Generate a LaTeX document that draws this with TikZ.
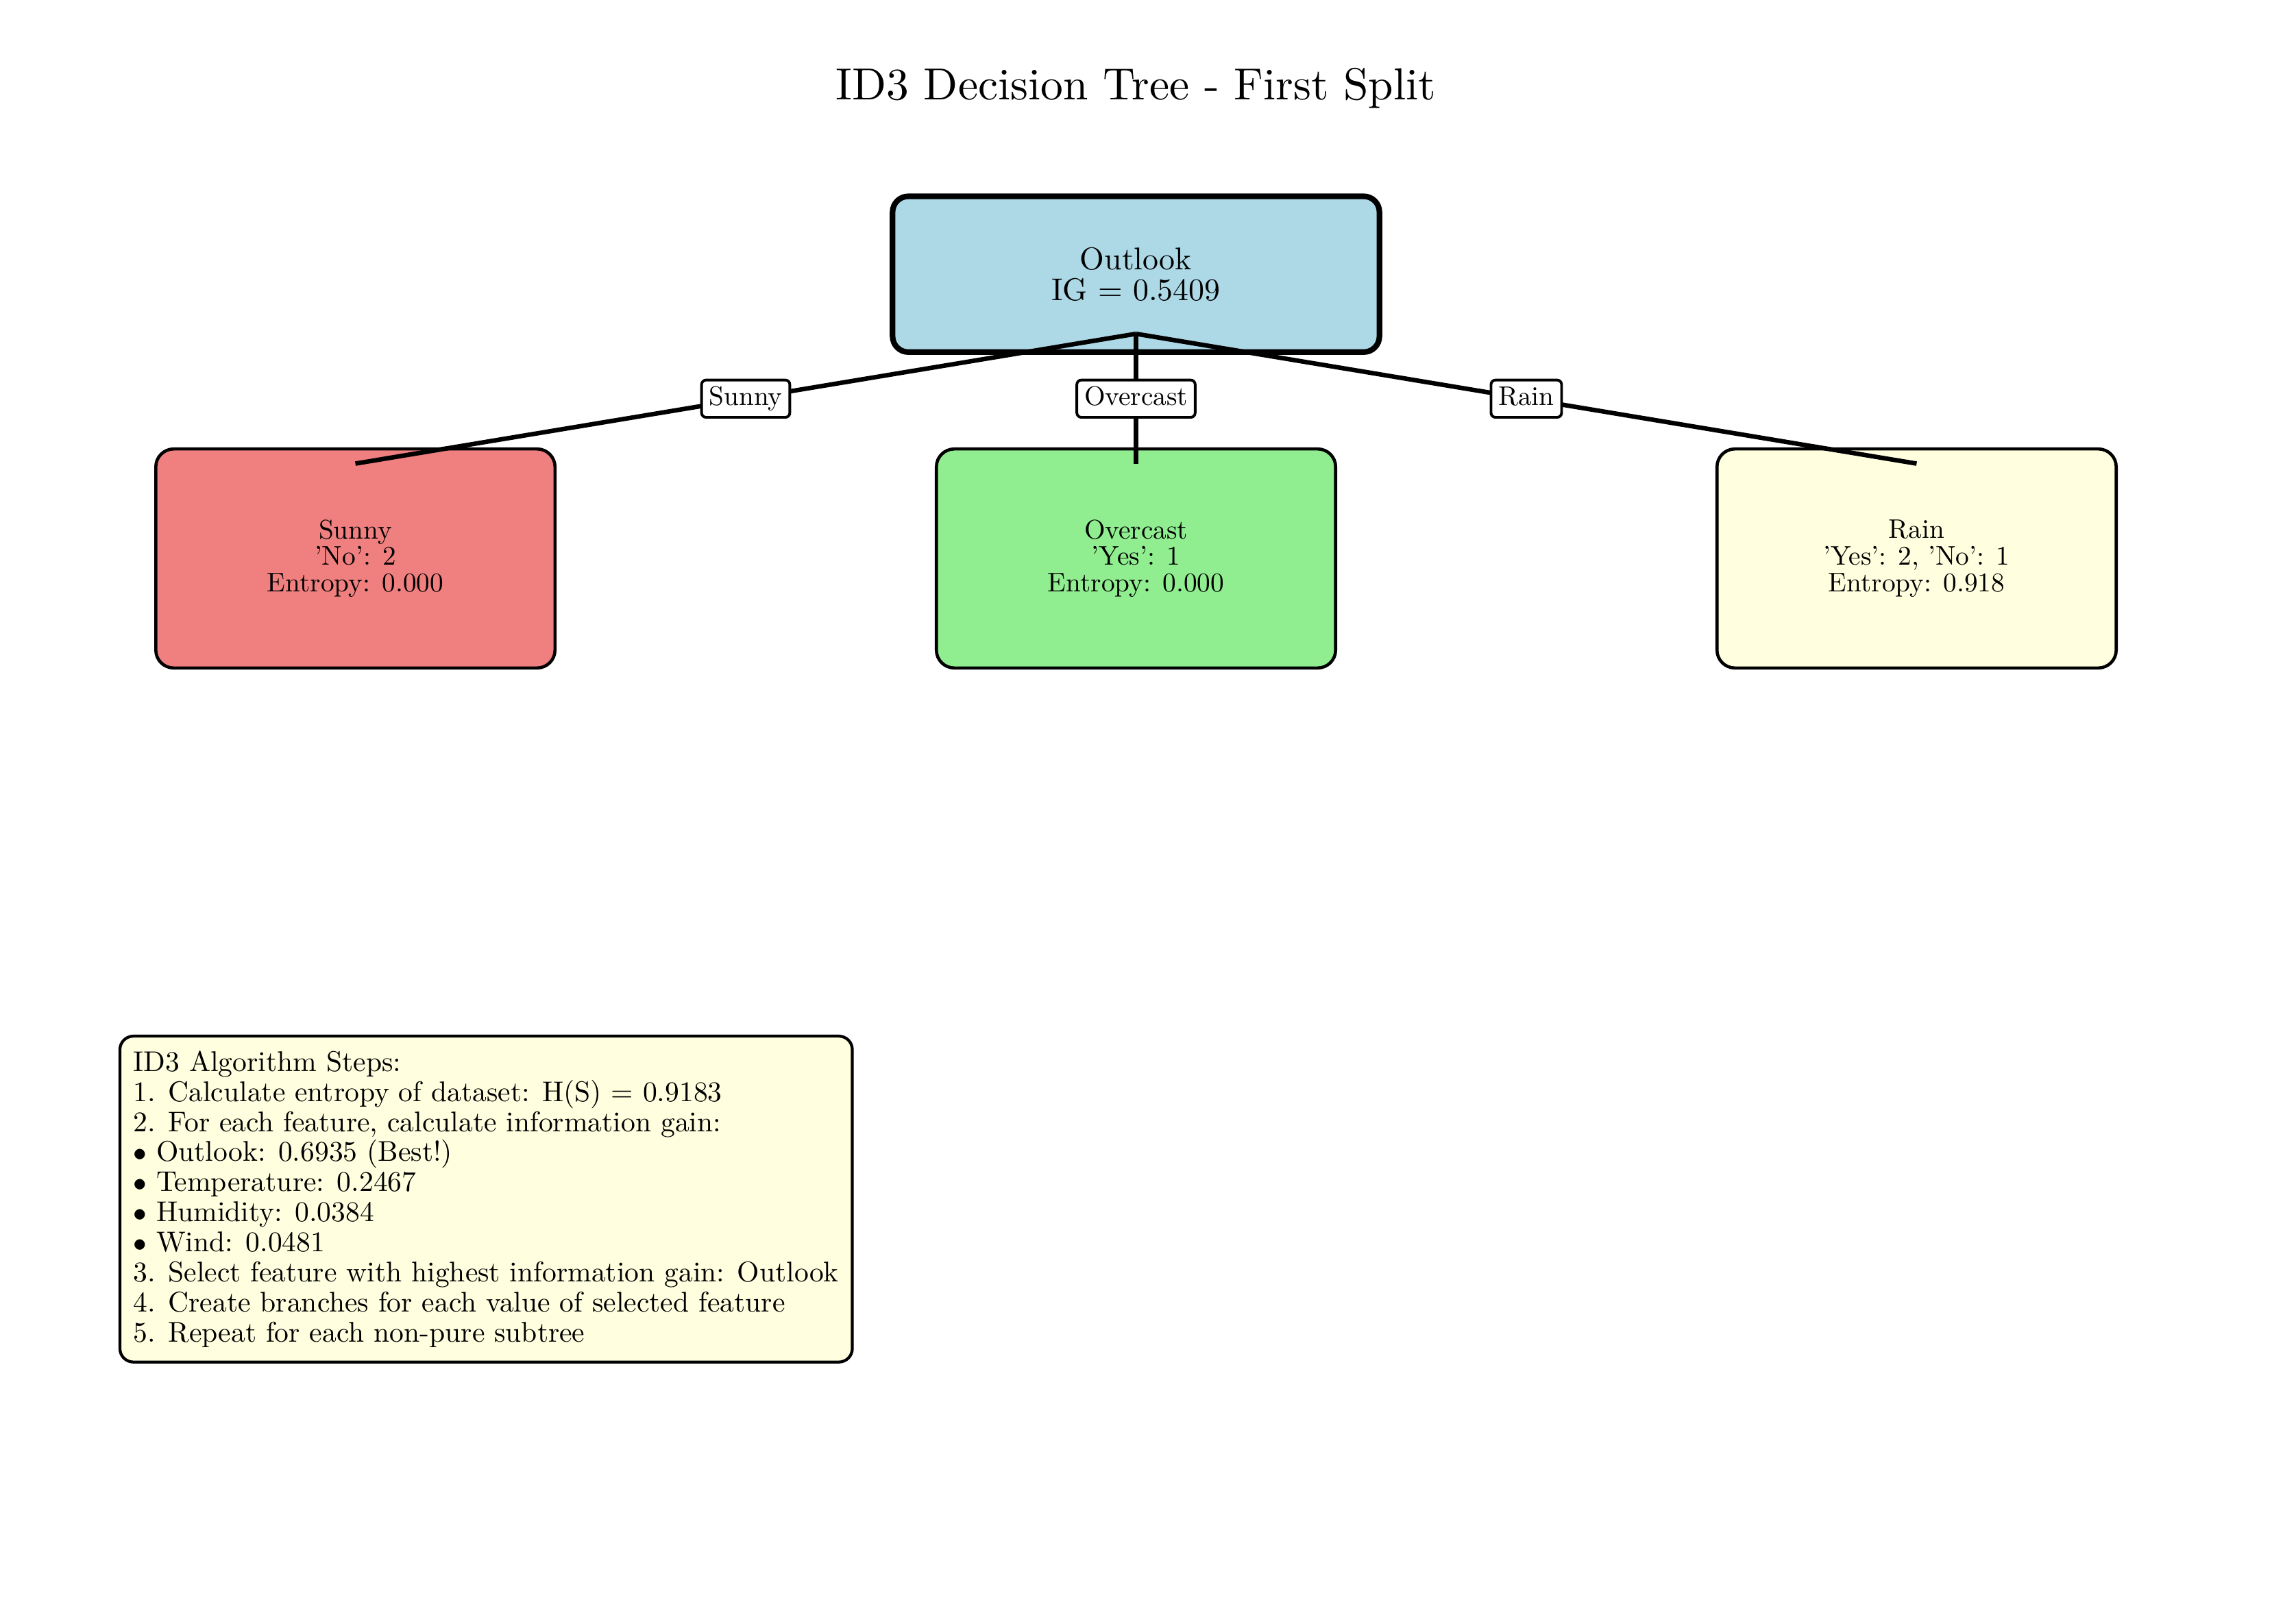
\documentclass[tikz,border=0pt]{standalone}
\usepackage[table,xcdraw]{xcolor}
\usepackage{amsmath}
\usepackage{fontspec}
\setmainfont{lmroman10-regular.otf}
\usepackage{tikz}
\usetikzlibrary{calc}

\definecolor{rootblue}{HTML}{ADD8E6}
\definecolor{sunnyred}{HTML}{F08080}
\definecolor{overcastgreen}{HTML}{90EE90}
\definecolor{rainyellow}{HTML}{FFFFE0}

\begin{document}
\begin{tikzpicture}[x=1in, y=1in,
    rootbox/.style = {draw, line width=2.5pt, rounded corners=7pt, fill=rootblue,
        minimum width=3.0in, minimum height=0.96in, align=center,
        font=\fontsize{14}{13.7}\selectfont},
    leafbox/.style = {draw, line width=1.4pt, rounded corners=8pt,
        minimum width=2.46in, minimum height=1.35in, align=center,
        font=\fontsize{12}{11.8}\selectfont},
    branch/.style = {line width=2pt},
    edgelabel/.style = {draw, fill=white, line width=1.2pt, rounded corners=2pt,
        inner xsep=3.3pt, inner ysep=2.8pt, text height=8.6pt, text depth=2.4pt,
        font=\fontsize{12}{12}\selectfont},
    stepsbox/.style = {draw, line width=1.3pt, rounded corners=6pt, fill=rainyellow,
        align=left, inner xsep=6pt, inner ysep=6.5pt, minimum width=4.49in,
        font=\fontsize{12.7}{13.4}\selectfont}]
    \useasboundingbox (0,0) rectangle (14,10.009);

    \node[anchor=base, font=\fontsize{20}{24}\selectfont] (title) at (7,9.396) {ID3 Decision Tree - First Split};

    \node[rootbox] (outlook) at (7,8.319) {Outlook\\IG = 0.5409};

    \node[leafbox, fill=sunnyred] (sunny) at (2.19,6.567) {Sunny\\'No': 2\\Entropy: 0.000};
    \node[leafbox, fill=overcastgreen] (overcast) at (7,6.567) {Overcast\\'Yes': 1\\Entropy: 0.000};
    \node[leafbox, fill=rainyellow] (rain) at (11.81,6.567) {Rain\\'Yes': 2, 'No': 1\\Entropy: 0.918};

    \coordinate (split) at ($(outlook.south)+(0,0.13)$);
    \coordinate (sunny-top) at ($(sunny.north)+(0,-0.1)$);
    \coordinate (overcast-top) at ($(overcast.north)+(0,-0.1)$);
    \coordinate (rain-top) at ($(rain.north)+(0,-0.1)$);

    \draw[branch] (split) -- node[edgelabel] {Sunny} (sunny-top);
    \draw[branch] (split) -- node[edgelabel] {Overcast} (overcast-top);
    \draw[branch] (split) -- node[edgelabel] {Rain} (rain-top);

    \node[stepsbox, anchor=north west] (steps) at (0.73,3.632) {ID3 Algorithm Steps:\\
        1. Calculate entropy of dataset: H(S) = 0.9183\\
        2. For each feature, calculate information gain:\\
        $\bullet$ Outlook: 0.6935 (Best!)\\
        $\bullet$ Temperature: 0.2467\\
        $\bullet$ Humidity: 0.0384\\
        $\bullet$ Wind: 0.0481\\
        3. Select feature with highest information gain: Outlook\\
        4. Create branches for each value of selected feature\\
        5. Repeat for each non-pure subtree};
\end{tikzpicture}
\end{document}
